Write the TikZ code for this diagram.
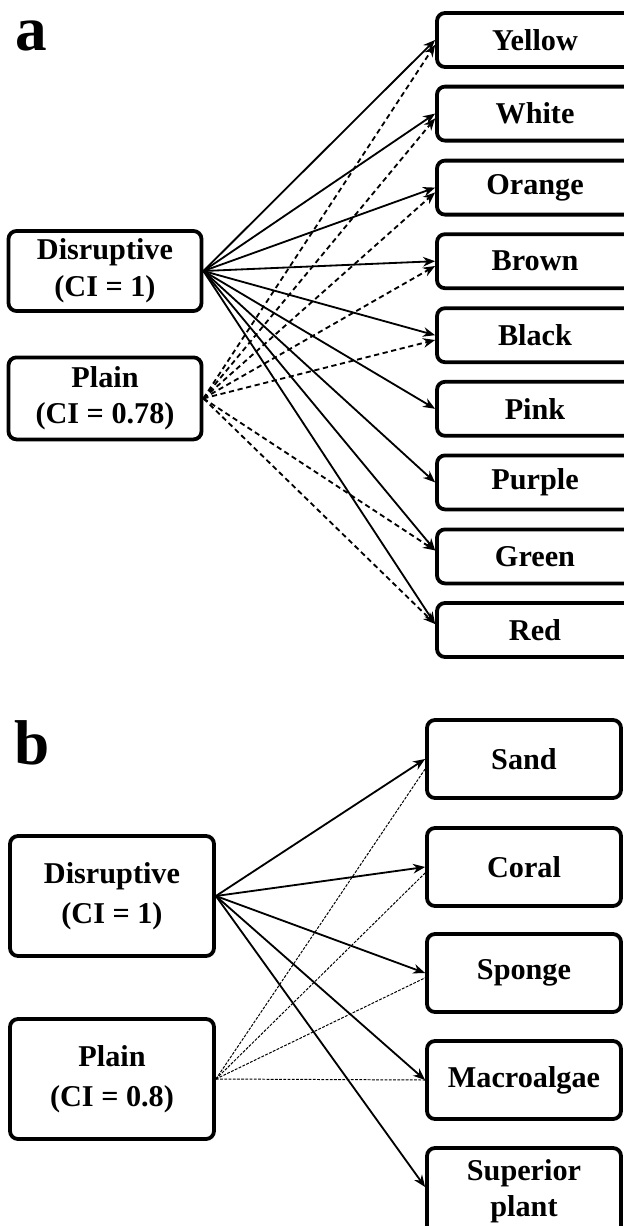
\documentclass[tikz,border=0pt]{standalone}
\usepackage{fontspec}
\setmainfont{Liberation Serif}
\usetikzlibrary{arrows.meta}

\tikzstyle{morph}=[draw,line width=2.7pt,rounded corners=0.2cm,inner sep=0pt,align=center,font=\bfseries\fontsize{21.5}{26}\selectfont]
\tikzstyle{colour}=[morph,minimum width=4.9cm,minimum height=1.35cm]
\tikzstyle{habitat}=[morph,minimum width=4.85cm,minimum height=1.95cm]
\tikzstyle{panel}=[font=\bfseries\fontsize{45}{45}\selectfont,anchor=base west,inner sep=0pt,text height=1.1cm,text depth=0pt]
\tikzstyle{link}=[line width=1.3pt,-{Stealth[length=0.3cm,width=0.24cm]}]
\tikzstyle{linkdash}=[link,dash pattern=on 0.13cm off 0.09cm]
\tikzstyle{linkfine}=[line width=0.7pt,dash pattern=on 2pt off 1pt]

\begin{document}
\begin{tikzpicture}
		\useasboundingbox (0,0) rectangle (15.6,-30.65);
		% panel a
		\node[panel] (la) at (0.375,-1.25) {a};
		\node[morph,minimum width=4.825cm,minimum height=2.0cm] (disa) at (2.625,-6.775) {Disruptive\\(CI = 1)};
		\node[morph,minimum width=4.825cm,minimum height=2.05cm] (plaina) at (2.625,-9.96) {Plain\\(CI = 0.78)};
		\node[colour] (yellow) at (13.375,-1.0) {Yellow};
		\node[colour] (white) at (13.375,-2.84) {White};
		\node[colour] (orange) at (13.375,-4.69) {Orange};
		\node[colour] (brown) at (13.375,-6.53) {Brown};
		\node[colour] (black) at (13.375,-8.38) {Black};
		\node[colour] (pink) at (13.375,-10.22) {Pink};
		\node[colour] (purple) at (13.375,-12.06) {Purple};
		\node[colour] (green) at (13.375,-13.91) {Green};
		\node[colour] (red) at (13.375,-15.75) {Red};
		\path (disa.east) edge[link] (yellow.west) edge[link] (white.west) edge[link] (orange.west)
			edge[link] (brown.west) edge[link] (black.west) edge[link] (pink.west)
			edge[link] (purple.west) edge[link] ([yshift=0.15cm]green.west) edge[link] ([yshift=0.15cm]red.west);
		\path (plaina.east) edge[linkdash] ([yshift=-0.12cm]yellow.west) edge[linkdash] ([yshift=-0.12cm]white.west)
			edge[linkdash] ([yshift=-0.12cm]orange.west) edge[linkdash] ([yshift=-0.12cm]brown.west)
			edge[linkdash] ([yshift=-0.12cm]black.west) edge[linkdash] ([yshift=0.15cm]green.west)
			edge[linkdash] ([yshift=0.15cm]red.west);
		% panel b
		\node[panel] (lb) at (0.35,-19.1) {b};
		\node[morph,minimum width=5.1cm,minimum height=3.0cm,font=\bfseries\fontsize{21.5}{28.5}\selectfont] (disb) at (2.8,-22.4) {Disruptive\\(CI = 1)};
		\node[morph,minimum width=5.1cm,minimum height=3.0cm,font=\bfseries\fontsize{21.5}{28.5}\selectfont] (plainb) at (2.8,-26.975) {Plain\\(CI = 0.8)};
		\node[habitat] (sand) at (13.1,-18.975) {Sand};
		\node[habitat] (coral) at (13.1,-21.675) {Coral};
		\node[habitat] (sponge) at (13.1,-24.325) {Sponge};
		\node[habitat] (algae) at (13.1,-27.0) {Macroalgae};
		\node[habitat,minimum height=2.15cm] (plant) at (13.1,-29.775) {Superior\\plant};
		\path (disb.east) edge[link] (sand.west) edge[link] (coral.west) edge[link] (sponge.west)
			edge[link] (algae.west) edge[link] ([yshift=0.1cm]plant.west);
		\path (plainb.east) edge[linkfine] ([yshift=-0.25cm]sand.west) edge[linkfine] ([yshift=-0.15cm]coral.west)
			edge[linkfine] ([yshift=-0.12cm]sponge.west) edge[linkfine] (algae.west);
		\end{tikzpicture}
\end{document}
